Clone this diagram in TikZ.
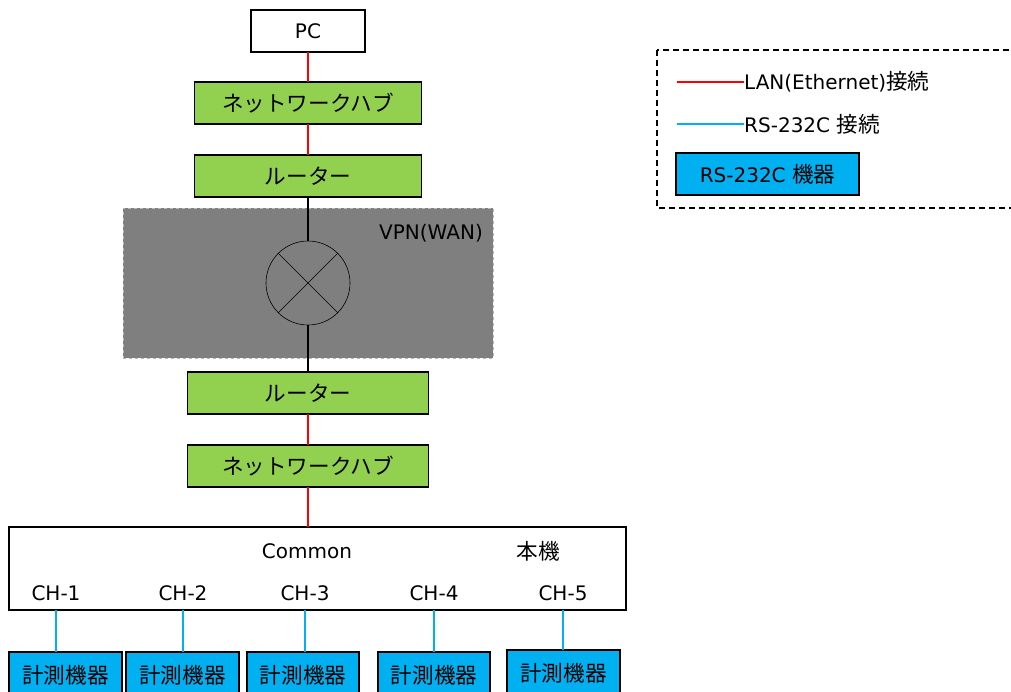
\documentclass[tikz,border=0pt]{standalone}
\usepackage{fontspec}
\setmainfont{DejaVu Sans}
\newfontfamily\jp[Scale=1.08]{Noto Sans CJK JP}
\usetikzlibrary{positioning}
\definecolor{verde}{HTML}{92D050}
\definecolor{celeste}{HTML}{00B0F0}
\definecolor{gris}{HTML}{7F7F7F}
\tikzset{
	caja/.style={draw, line width=1.6pt, inner sep=0pt, outer sep=0pt, minimum height=42pt},
	equipo/.style={caja, fill=verde},
	medidor/.style={caja, fill=celeste, minimum width=113pt, minimum height=46pt},
	lan/.style={draw=red, line width=1.4pt},
	rs/.style={draw=celeste, line width=1.4pt}
}

\begin{document}
\begin{tikzpicture}[x=1pt, y=-1pt, font=\fontsize{20}{24}\selectfont]
				\useasboundingbox (0,0) rectangle (1011,691);
				% equipos
				\node [caja, minimum width=114pt] (pc) at (308,31) {PC};
				\node [equipo, minimum width=227pt] (hub1) [below=30pt of pc] {\jp ネットワークハブ};
				\node [equipo, minimum width=227pt] (router1) [below=31pt of hub1] {\jp ルーター};
				\node [fill=gris, draw=gray!55, dashed, line width=0.6pt, inner sep=0pt, outer sep=0pt, minimum width=370pt, minimum height=150pt] (vpn) [below=11pt of router1] {};
				\node [draw, circle, line width=0.6pt, inner sep=0pt, minimum size=84pt] (nube) at (vpn.center) {};
				\node (wan) at (431,233) {VPN(WAN)};
				\node [equipo, minimum width=241pt] (router2) [below=14pt of vpn] {\jp ルーター};
				\node [equipo, minimum width=241pt] (hub2) [below=31pt of router2] {\jp ネットワークハブ};
				\node [caja, minimum width=617pt, minimum height=83pt] (comun) at (317.5,568.5) {};
				\node (common) at (307,551) {Common};
				\node (honki) at (538,551) {\jp 本機};
				
				% canales
				\node (ch1) at (56,593) {CH-1};
				\node (ch2) at (183,593) {CH-2};
				\node (ch3) at (305,593) {CH-3};
				\node (ch4) at (434,593) {CH-4};
				\node (ch5) at (563,593) {CH-5};
				\node [medidor] (dev1) at (65.5,675) {\jp 計測機器};
				\node [medidor] (dev2) at (182.5,675) {\jp 計測機器};
				\node [medidor, minimum width=112pt] (dev3) at (303,675) {\jp 計測機器};
				\node [medidor, minimum width=112pt] (dev4) at (434,675) {\jp 計測機器};
				\node [medidor] (dev5) at (563.5,673) {\jp 計測機器};
				
				% conexiones
				\draw [line width=0.6pt] (nube.north west) -- (nube.south east)
				(nube.north east) -- (nube.south west);
				\path [lan]
				(pc) edge (hub1)
				(hub1) edge (router1)
				(router1) edge [draw=black] (nube)
				(nube) edge [draw=black] (router2)
				(router2) edge (hub2)
				(hub2.south) edge (hub2.south |- comun.north);
				\path [rs]
				(ch1 |- comun.south) edge (ch1 |- dev1.north)
				(ch2 |- comun.south) edge (ch2 |- dev2.north)
				(ch3 |- comun.south) edge (ch3 |- dev3.north)
				(ch4 |- comun.south) edge (ch4 |- dev4.north)
				(ch5 |- comun.south) edge (ch5 |- dev5.north);
				
				% leyenda
				\draw [line width=1.4pt, dash pattern=on 6pt off 4pt] (657,50) rectangle (1030,208);
				\coordinate (l1) at (677,82);
				\coordinate (l2) at (677,124);
				\node [anchor=west, inner sep=0pt] (lantxt) at (744,82) {LAN(Ethernet){\jp 接続}};
				\node [anchor=west, inner sep=0pt] (rstxt) at (744,124) {RS-232C {\jp 接続}};
				\node [caja, fill=celeste, minimum width=183pt] (rsbox) at (767.5,174) {RS-232C {\jp 機器}};
				\draw [lan] (l1) -- (lantxt.west);
				\draw [rs] (l2) -- (rstxt.west);
				\end{tikzpicture}
\end{document}
